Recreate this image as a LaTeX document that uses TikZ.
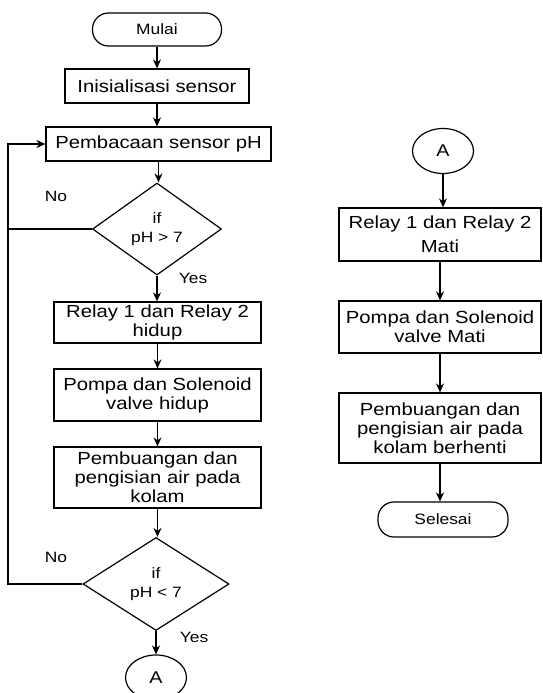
\documentclass[tikz,border=0pt]{standalone}
\usepackage{fontspec}
\setmainfont{Liberation Sans}[FakeStretch=1.16]
\usetikzlibrary{shapes,shapes.geometric,arrows.meta}

\tikzset{
  proc/.style={draw, line width=1.2pt, align=center, inner sep=0pt, font=\fontsize{17.5}{19}\selectfont},
  term/.style={draw, line width=1.2pt, rounded corners=16pt, inner sep=0pt, font=\fontsize{15}{18}\selectfont},
  dec/.style={draw, diamond, aspect=1.4, line width=1.2pt, align=center, inner sep=0pt, font=\fontsize{15}{19}\selectfont},
  conn/.style={draw, ellipse, line width=1.2pt, inner sep=0pt, minimum width=61pt, minimum height=45pt, font=\fontsize{17}{20}\selectfont},
  arr/.style={line width=1.5pt, -{Stealth[length=9pt,width=8pt]}},
  lbl/.style={font=\fontsize{15}{18}\selectfont}
}

\begin{document}
\begin{tikzpicture}[x=1pt,y=-1pt]
	\useasboundingbox (0,0) rectangle (542,693);
	% left column
	\node[term, minimum width=129pt, minimum height=33pt] (0) at (157,29.5) {Mulai};
	\node[proc, minimum width=184pt, minimum height=34pt] (1) at (157,86) {Inisialisasi sensor};
	\node[proc, minimum width=225pt, minimum height=34pt] (2) at (158.5,144) {Pembacaan sensor pH};
	\node[dec, minimum width=129pt, minimum height=92pt] (3) at (157,229) {if\\pH > 7};
	\node[proc, minimum width=207pt, minimum height=41pt] (4) at (157.5,322.5) {Relay 1 dan Relay 2\\hidup};
	\node[proc, minimum width=207pt, minimum height=52pt] (5) at (157.5,395) {Pompa dan Solenoid\\valve hidup};
	\node[proc, minimum width=207pt, minimum height=61pt] (6) at (157.5,477.5) {Pembuangan dan\\pengisian air pada\\kolam};
	\node[dec, minimum width=146pt, minimum height=93pt] (7) at (156,584) {if\\pH < 7};
	\node[conn] (8) at (156,677.5) {A};
	% right column
	\node[conn] (a0) at (443,151) {A};
	\node[proc, minimum width=202pt, minimum height=53pt] (a1) at (440,234.5) {Relay 1 dan Relay 2\\[5pt]Mati};
	\node[proc, minimum width=202pt, minimum height=52pt] (a2) at (440,327) {Pompa dan Solenoid\\valve Mati};
	\node[proc, minimum width=202pt, minimum height=70pt] (a3) at (440,428) {Pembuangan dan\\pengisian air pada\\kolam berhenti};
	\node[term, minimum width=130pt, minimum height=35pt] (a4) at (443,519.5) {Selesai};

	\foreach \a/\b in {0/1,1/2,2/3,3/4,4/5,5/6,6/7,7/8,a0/a1,a1/a2,a2/a3,a3/a4}
		\draw[arr] (\a.south) -- (\a.south |- \b.north);

	\coordinate (l) at (8,0);
	\draw[arr] (7.west) -- (7.west -| l) |- (2.west);
	\draw[line width=1.5pt] (3.west) -- (3.west -| l);

	\node[lbl] (n1) at (56,196) {No};
	\node[lbl] (y1) at (193,278) {Yes};
	\node[lbl] (n2) at (56,557) {No};
	\node[lbl] (y2) at (194,637) {Yes};
\end{tikzpicture}
\end{document}
